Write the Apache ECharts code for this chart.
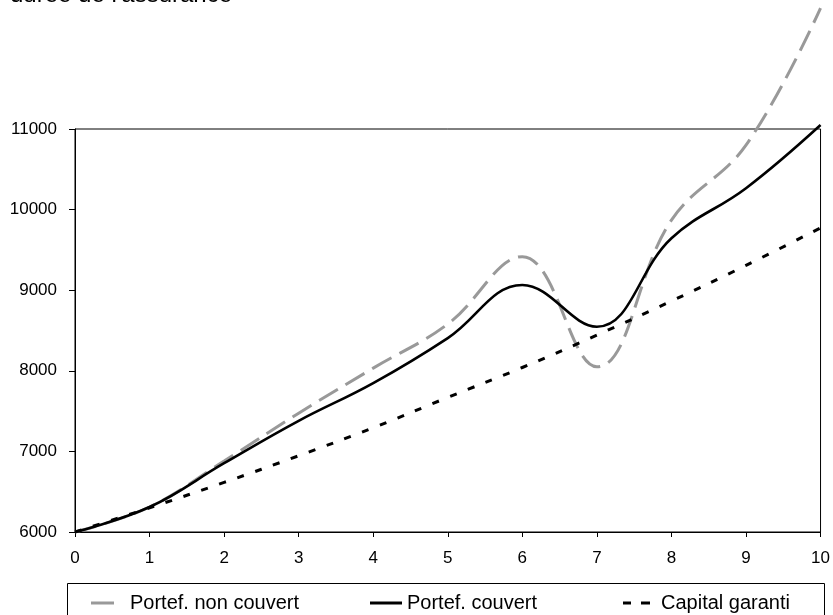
<!DOCTYPE html>
<html>
<head>
<meta charset="utf-8">
<script src="https://cdn.jsdelivr.net/npm/echarts@6/dist/echarts.min.js"></script>
<style>
  html, body { margin: 0; padding: 0; background: #fff; }
  #main { width: 833px; height: 615px; }
</style>
</head>
<body>
<div id="main"></div>
<script>
// years of insurance
var years = [0, 1, 2, 3, 4, 5, 6, 7, 8, 9, 10]
var nonCouvert = [6000, 6310, 6880, 7474, 8033, 8580, 9416, 8050, 9870, 10800, 12500]
var couvert = [6000, 6310, 6853, 7379, 7847, 8406, 9065, 8547, 9645, 10266, 11050]
var capitalGaranti = [6000, 6300, 6615, 6946, 7293, 7670, 8041, 8443, 8865, 9308, 9773]
var names = ["Portef. non couvert", "Portef. couvert", "Capital garanti"]
var titleText = "durée de l'assurance"

function pairs(ys){
    return years.map(function(x, i){ return [x, ys[i]] })
}

var font = "Arial, 'Liberation Sans', sans-serif"
var chartDom = document.getElementById("main")
var myChart = echarts.init(chartDom)

var legendBase = {
    orient: "horizontal",
    top: 593,
    itemHeight: 3,
    borderWidth: 0,
    padding: 0,
    textStyle: { color: "#000", fontSize: 20, fontFamily: font }
}

var option = {
    animation: false,
    backgroundColor: "#fff",
    graphic: [
        {
            type: "text",
            x: 10,
            y: -17,
            style: { text: titleText, fill: "#000", font: "24px " + font }
        },
        {
            type: "rect",
            shape: { x: 67.5, y: 583.5, width: 757, height: 60 },
            style: { fill: "none", stroke: "#000", lineWidth: 1 }
        }
    ],
    legend: [
        Object.assign({}, legendBase, {
            left: 91, itemWidth: 23,
            data: [{ name: names[0], icon: "rect", itemStyle: { color: "#999999" } }],
            textStyle: Object.assign({}, legendBase.textStyle, { padding: [0, 0, 0, 11] })
        }),
        Object.assign({}, legendBase, {
            left: 370, itemWidth: 32,
            data: [{ name: names[1], icon: "rect", itemStyle: { color: "#000" } }],
            textStyle: Object.assign({}, legendBase.textStyle, { padding: [0, 0, 0, 0] })
        }),
        Object.assign({}, legendBase, {
            left: 623, itemWidth: 27,
            data: [{ name: names[2], icon: "path://M0,0 H8 V3 H0 Z M18,0 H27 V3 H18 Z", itemStyle: { color: "#000" } }],
            textStyle: Object.assign({}, legendBase.textStyle, { padding: [0, 0, 0, 6] })
        })
    ],
    grid: {
        left: 75,
        right: 10,
        top: 129,
        bottom: 83,
        show: true,
        borderColor: "#000",
        borderWidth: 1,
        containLabel: false
    },
    xAxis: {
        type: "value",
        min: 0,
        max: 10,
        interval: 1,
        axisLine: { show: true, lineStyle: { color: "#000", width: 1 } },
        axisTick: { show: true, length: 5, lineStyle: { color: "#000" } },
        splitLine: { show: false },
        axisLabel: { color: "#000", fontSize: 17, fontFamily: font, margin: 18 }
    },
    yAxis: {
        type: "value",
        min: 6000,
        max: 11000,
        interval: 1000,
        axisLine: { show: true, lineStyle: { color: "#000", width: 1 } },
        axisTick: { show: true, length: 6, lineStyle: { color: "#000" } },
        splitLine: { show: false },
        axisLabel: {
            color: "#000", fontSize: 17, fontFamily: font, margin: 18,
            formatter: function(v){ return String(v) }
        }
    },
    series: [
        {
            name: names[0],
            type: "line",
            data: pairs(nonCouvert),
            smooth: 0.4,
            clip: false,
            symbol: "none",
            lineStyle: { color: "#999999", width: 3, type: [22, 9] },
            itemStyle: { color: "#999999" },
            z: 2
        },
        {
            name: names[1],
            type: "line",
            data: pairs(couvert),
            smooth: 0.4,
            clip: false,
            symbol: "none",
            lineStyle: { color: "#000", width: 2.6, type: "solid" },
            itemStyle: { color: "#000" },
            z: 3
        },
        {
            name: names[2],
            type: "line",
            data: pairs(capitalGaranti),
            smooth: 0.4,
            clip: false,
            symbol: "none",
            lineStyle: { color: "#000", width: 3, type: [7, 12] },
            itemStyle: { color: "#000" },
            z: 4
        }
    ]
}
myChart.setOption(option)
</script>
</body>
</html>
